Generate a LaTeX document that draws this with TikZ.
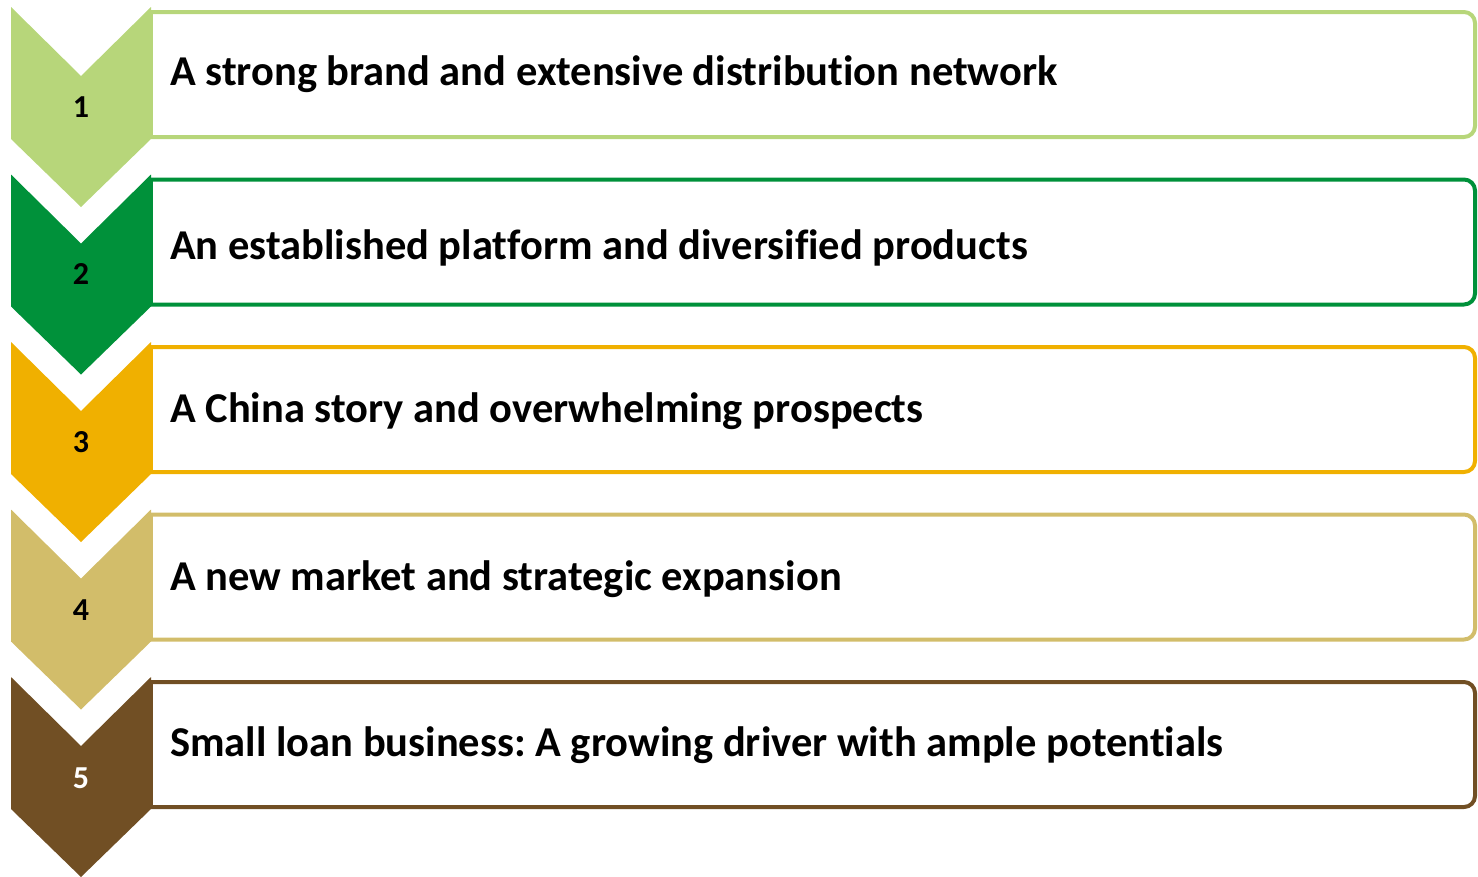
\documentclass[tikz,border=0pt]{standalone}
\usepackage{fontspec}
\setmainfont{Carlito}[Ligatures=CommonOff]
\frenchspacing
\definecolor{rowA}{RGB}{183,214,122}
\definecolor{rowB}{RGB}{0,145,58}
\definecolor{rowC}{RGB}{240,176,0}
\definecolor{rowD}{RGB}{210,189,106}
\definecolor{rowE}{RGB}{113,79,36}
\tikzset{
  panel/.style={line width=4pt, line join=round},
  chevron/.style={draw=none},
  numlabel/.style={font=\fontsize{32}{32}\selectfont\bfseries, anchor=base, inner sep=0pt},
  itemtext/.style={font=\fontsize{42.5}{42.5}\selectfont\bfseries, anchor=base west, inner sep=0pt},
}
\begin{document}
\begin{tikzpicture}[x=1pt,y=-1pt]
  \useasboundingbox (0,0) rectangle (1478,876);
  \foreach \i/\col/\numcol/\txt/\tb in {
    0/rowA/black/{A strong brand and extensive distribution network}/85,
    1/rowB/black/{An established platform and diversified products}/259,
    2/rowC/black/{A China story and overwhelming prospects}/422,
    3/rowD/black/{A new market and strategic expansion}/590,
    4/rowE/white/{Small loan business: A growing driver with ample potentials}/756} {
    \pgfmathsetmacro{\t}{7+167.5*\i}
    % outlined panel, open on the left where the chevron sits
    \coordinate (pl\i) at (151,\t+5);
    \coordinate (pr\i) at (1475,\t+130);
    \draw[panel, draw=\col, rounded corners=11pt] (pl\i) -- (pl\i -| pr\i) -- (pr\i) -- (pr\i -| pl\i);
    \draw[panel, draw=\col, line join=miter] (pl\i) -- (pr\i -| pl\i);
    % chevron marker
    \fill[chevron, fill=\col] (11,\t) -- (81,\t+69) -- (151,\t) -- (151,\t+132) -- (81,\t+200) -- (11,\t+132) -- cycle;
    \node[numlabel, text=\numcol] (n\i) at (81,{117+167.75*\i}) {\the\numexpr\i+1\relax};
    \node[itemtext] (t\i) at (170,\tb) {\txt};
  }
\end{tikzpicture}
\end{document}
